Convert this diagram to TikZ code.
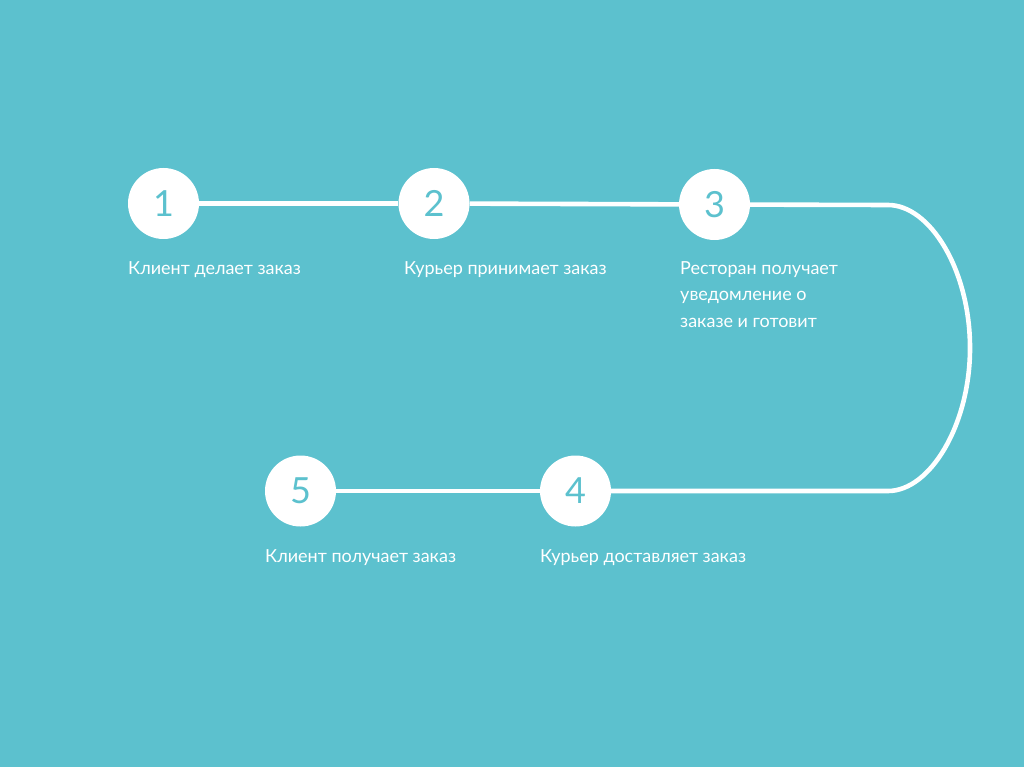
\documentclass[tikz,border=0pt]{standalone}
\usepackage{fontspec}
\setmainfont{Lato}
\definecolor{bg}{RGB}{92,193,206}
\begin{document}
\begin{tikzpicture}[x=1pt,y=-1pt,
  stepcircle/.style={circle,fill=white,minimum size=71pt,inner sep=0pt,text=bg,font=\fontsize{36}{40}\selectfont},
  steplabel/.style={anchor=base west,text=white,inner sep=0pt,align=left,font=\fontsize{18}{26.5}\selectfont},
  link/.style={draw=white,line width=4.6pt}]
\fill[bg] (0,0) rectangle (1024,767);
\useasboundingbox (0,0) rectangle (1024,767);
\coordinate (r1) at (888,205);
\coordinate (r2) at (888,491);
\node[stepcircle] (c1) at (163.5,203.5) {1};
\node[stepcircle] (c2) at (434,203.5) {2};
\node[stepcircle] (c3) at (714.5,204.5) {3};
\node[stepcircle] (c4) at (575.5,491) {4};
\node[stepcircle] (c5) at (300.5,491) {5};
\draw[link] (c1) -- (c2);
\draw[link] (c2) -- (c3);
\draw[link] (c3) -- (r1) .. controls (930,205) and (970,270) .. (970,348) .. controls (970,425) and (930,491) .. (r2) -- (c4);
\draw[link] (c4) -- (c5);
\node[steplabel] (l1) at (128,274) {Клиент делает заказ};
\node[steplabel] (l2) at (404,274) {Курьер принимает заказ};
\node[steplabel] (l3) at (680,327) {Ресторан получает\\уведомление о\\заказе и готовит};
\node[steplabel] (l4) at (540,562) {Курьер доставляет заказ};
\node[steplabel] (l5) at (265,562) {Клиент получает заказ};
\end{tikzpicture}
\end{document}
